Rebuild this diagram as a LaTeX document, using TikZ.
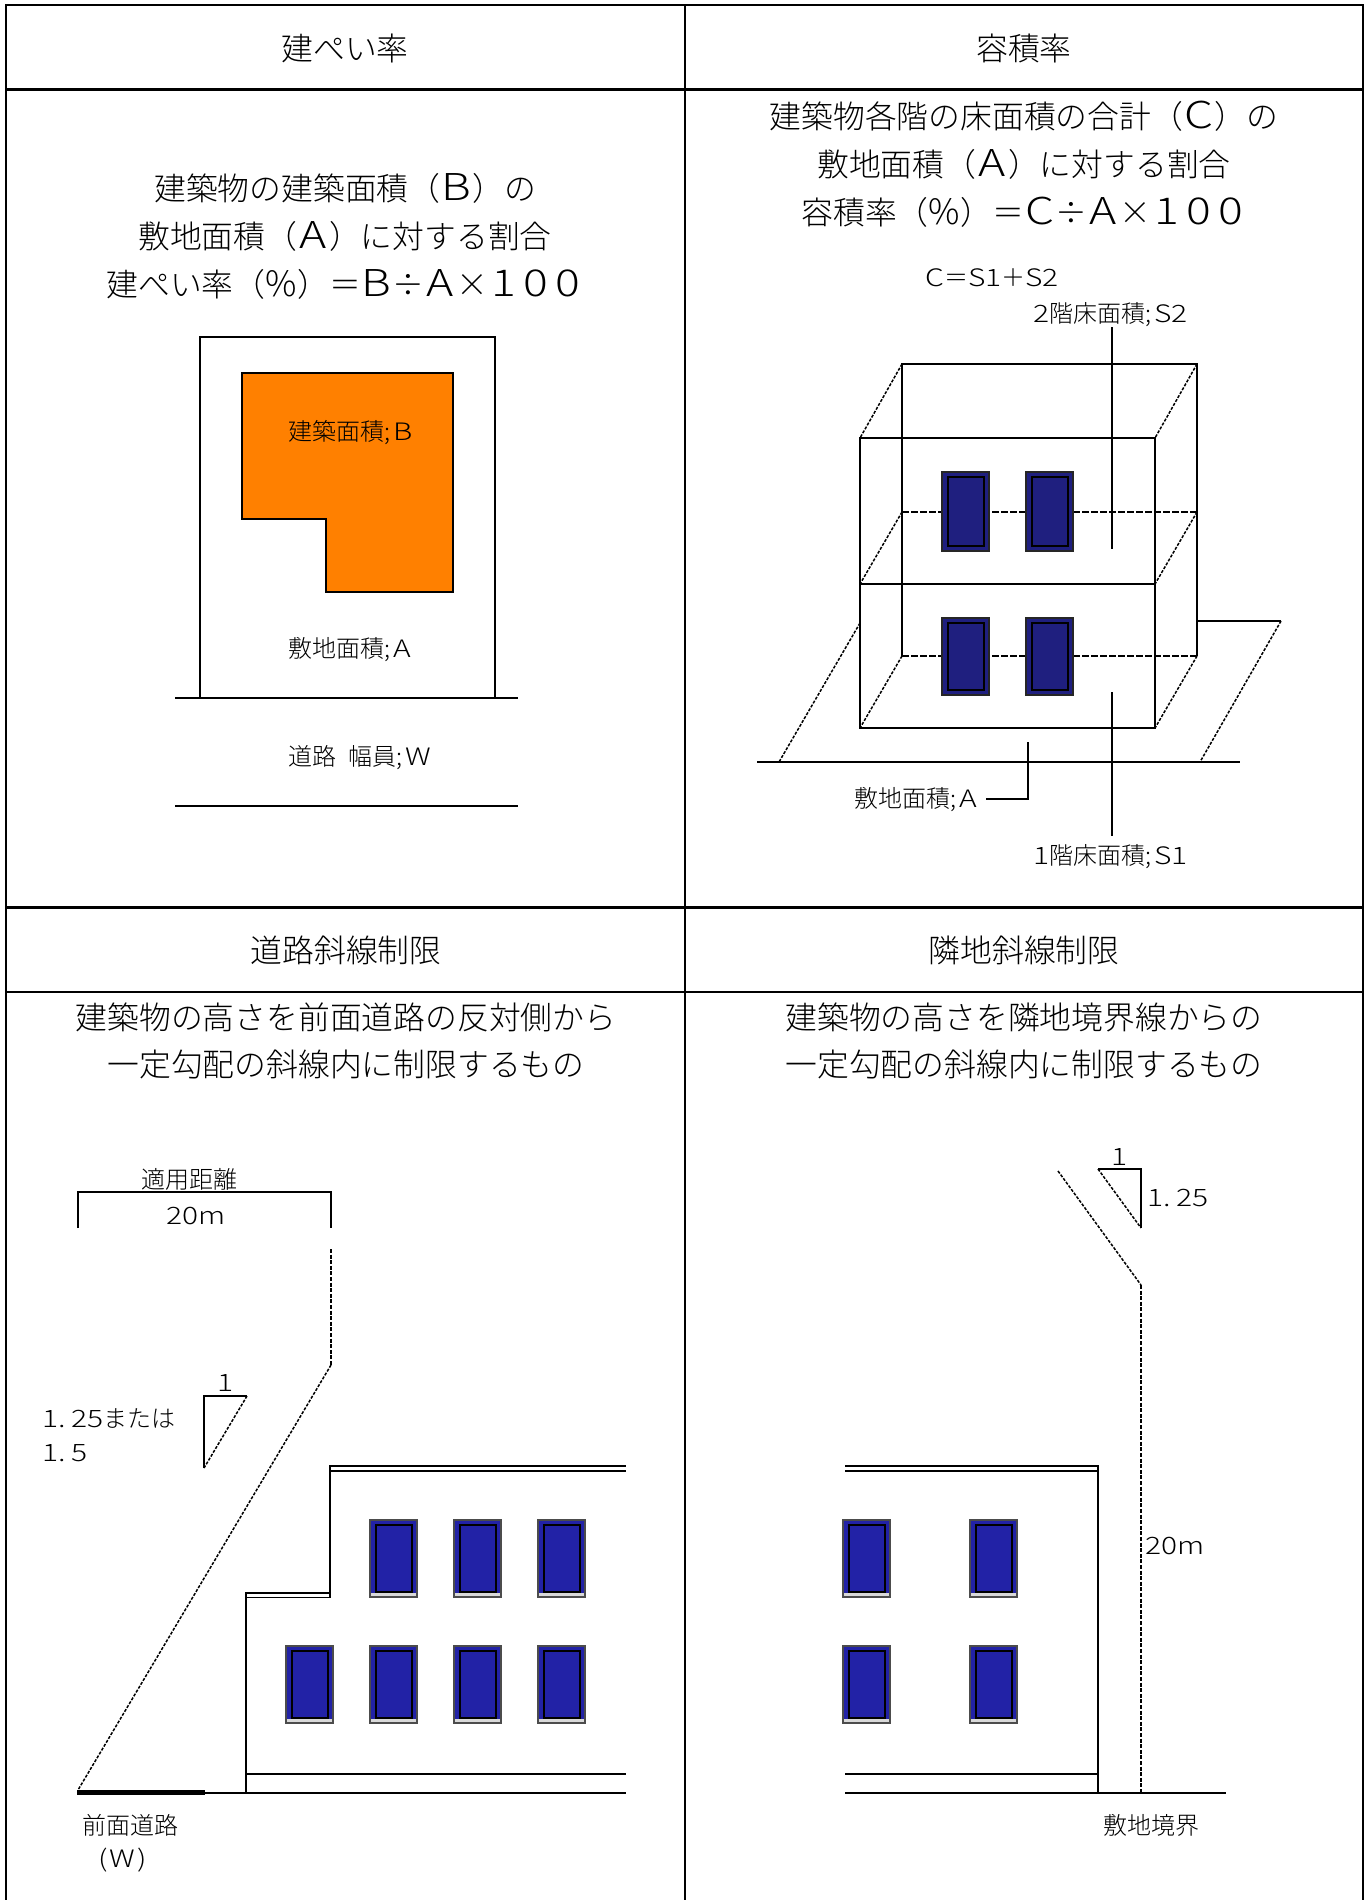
\documentclass[tikz,border=0pt]{standalone}
\usepackage{fontspec}
\setmainfont{Noto Sans CJK JP Light}
\newfontfamily\stretchfont{Noto Sans CJK JP Light}[FakeStretch=1.25]
\definecolor{orng}{HTML}{FF8000}
\definecolor{winA}{HTML}{1F1F7F}
\definecolor{winB}{HTML}{2222A6}
\newcommand{\lat}[1]{{\stretchfont #1}}
\newcommand{\fw}[1]{\makebox[31.8pt]{\fontsize{37}{47.8}\stretchfont #1}}
\newcommand{\pct}{\makebox[31.8pt]{\fontsize{35}{47.8}\selectfont \%}}
\tikzset{
  frameline/.style={line width=2.4pt,black},
  thin line/.style={line width=1.6pt,black},
  jag/.style={line width=1.5pt,black,dash pattern=on 3pt off 1.5pt},
  dashline/.style={line width=1.6pt,black,dash pattern=on 4pt off 1.6pt},
  longdash/.style={line width=1.5pt,black,dash pattern=on 6.5pt off 2.5pt},
  big/.style={inner sep=0pt,align=center,font=\fontsize{31.8}{47.8}\selectfont,text=black},
  small/.style={inner sep=0pt,anchor=west,font=\fontsize{24}{30}\selectfont,text=black},
}
\newcommand{\wnd}[4]{% x1 y1 x2 y2 : window of the perspective view
  \fill[winA] (#1,#2) rectangle (#3,#4);
  \draw[line width=1.4pt,black!85] (#1,#2) rectangle (#3,#4);
  \draw[line width=2pt,black] (#1+5.5,#2+5) rectangle (#3-5.5,#4-5);
}
\newcommand{\wnds}[2]{% x y : elevation window with sill
  \fill[winB] (#1,#2) rectangle (#1+47,#2+77);
  \fill[black!15] (#1+1,#2+73) rectangle (#1+46,#2+77);
  \draw[line width=1.3pt,black!70] (#1,#2) rectangle (#1+47,#2+77);
  \draw[line width=2pt,black] (#1+5.5,#2+5) rectangle (#1+41.5,#2+72);
}
\begin{document}
\begin{tikzpicture}[x=1pt,y=-1pt]
\useasboundingbox (0,0) rectangle (1370,1900);
\fill[white] (0,0) rectangle (1370,1900);
% table
\draw[frameline] (6,1900) -- (6,5) -- (1363,5) -- (1363,1900);
\draw[frameline] (685,5) -- (685,1900);
\draw[frameline] (6,89.5) -- (1363,89.5);
\draw[frameline] (6,907.5) -- (1363,907.5);
\draw[frameline] (6,992) -- (1363,992);
% headings
\node[big] (h1) at (345,48.5) {建ぺい率};
\node[big] (h2) at (1024,48.5) {容積率};
\node[big] (h3) at (346,950) {道路斜線制限};
\node[big] (h4) at (1024,950) {隣地斜線制限};
\node[big] (t1) at (345,236.5) {建築物の建築面積（\fw{B}）の\\敷地面積（\fw{A}）に対する割合\\建ぺい率（\pct）＝\fw{B}÷\fw{A}×\fw{1}\fw{0}\fw{0}};
\node[big] (t2) at (1024,164) {建築物各階の床面積の合計（\fw{C}）の\\敷地面積（\fw{A}）に対する割合\\容積率（\pct）＝\fw{C}÷\fw{A}×\fw{1}\fw{0}\fw{0}};
\node[big] (t3) at (346,1041) {建築物の高さを前面道路の反対側から\\一定勾配の斜線内に制限するもの};
\node[big] (t4) at (1024,1041) {建築物の高さを隣地境界線からの\\一定勾配の斜線内に制限するもの};
% panel 1
\draw[thin line] (200,698) -- (200,337) -- (495,337) -- (495,698);
\draw[thin line] (175,698) -- (518,698);
\draw[thin line] (175,806) -- (518,806);
\draw[thin line,fill=orng] (242,373) -- (453,373) -- (453,592) -- (326,592) -- (326,519) -- (242,519) -- cycle;
\node[small] (a1) at (288,433) {建築面積;\hspace{3pt}\lat{B}};
\node[small] (a2) at (288,650) {敷地面積;\hspace{3pt}\lat{A}};
\node[small] (a3) at (288,758) {道路\hspace{12pt}幅員;\hspace{3pt}\lat{W}};
% panel 2
\draw[thin line] (902,656) -- (902,364) -- (1197,364) -- (1197,656);
\draw[longdash] (902,512) -- (1197,512);
\draw[longdash] (902,656) -- (1197,656);
\draw[jag] (902,364) -- (860,438);
\draw[jag] (1197,364) -- (1155,438);
\draw[jag] (902,512) -- (860,584);
\draw[jag] (1197,512) -- (1155,584);
\draw[jag] (902,656) -- (860,728);
\draw[jag] (1197,656) -- (1155,728);
\draw[thin line] (860,438) rectangle (1155,728);
\draw[thin line] (860,584) -- (1155,584);
\draw[thin line] (757,762) -- (1240,762);
\draw[jag] (860,623) -- (779,762);
\draw[thin line] (1197,621) -- (1281,621);
\draw[jag] (1281,621) -- (1200,762);
\wnd{942}{472}{989}{551}
\wnd{1026}{472}{1073}{551}
\wnd{942}{618}{989}{695}
\wnd{1026}{618}{1073}{695}
\node[small] (b1) at (925,278) {\lat{C}＝\lat{S1}＋\lat{S2}};
\node[small] (b2) at (1033,315) {\lat{2}階床面積;\hspace{3pt}\lat{S2}};
\node[small] (b3) at (1033,857) {\lat{1}階床面積;\hspace{3pt}\lat{S1}};
\node[small] (b4) at (854,800) {敷地面積;\hspace{3pt}\lat{A}};
\draw[thin line] (1112,327) -- (1112,549);
\draw[thin line] (1112,692) -- (1112,836);
\draw[thin line] (1028,742) -- (1028,799) -- (986,799);
% panel 3
\draw[thin line] (78,1228) -- (78,1192) -- (331,1192) -- (331,1228);
\node[small] (c1) at (141,1179) {適用距離};
\node[small] (c2) at (166,1216) {\lat{20m}};
\draw[dashline] (331,1249) -- (331,1365);
\draw[jag] (331,1365) -- (78,1790);
\draw[thin line] (204,1468) -- (204,1396) -- (247,1396);
\draw[jag] (247,1396) -- (204,1468);
\node[small] (c3) at (217,1383) {\lat{1}};
\node[small] (c4) at (42,1419) {\lat{1.\hspace{6pt}25}または};
\node[small] (c5) at (42,1453) {\lat{1.\hspace{6pt}5}};
\draw[thin line] (78,1793) -- (626,1793);
\draw[line width=5pt] (77,1792) -- (205,1792);
\draw[thin line] (246,1793) -- (246,1593) -- (330,1593) -- (330,1466) -- (626,1466);
\draw[thin line] (246,1597.5) -- (330,1597.5) -- (330,1471) -- (626,1471);
\draw[thin line] (246,1774) -- (626,1774);
\wnds{370}{1520}
\wnds{454}{1520}
\wnds{538}{1520}
\wnds{286}{1646}
\wnds{370}{1646}
\wnds{454}{1646}
\wnds{538}{1646}
\node[small] (c6) at (82,1825) {前面道路};
\node[small] (c7) at (98,1860) {\lat{(\hspace{2pt}W\hspace{2pt})}};
% panel 4
\draw[thin line] (1098,1169) -- (1141,1169) -- (1141,1228);
\draw[jag] (1098,1169) -- (1141,1228);
\node[small] (d1) at (1111,1157) {\lat{1}};
\node[small] (d2) at (1147,1198) {\lat{1.\hspace{6pt}25}};
\draw[jag] (1058,1171) -- (1141,1285);
\draw[dashline] (1141,1285) -- (1141,1793);
\draw[thin line] (845,1466) -- (1098,1466) -- (1098,1793);
\draw[thin line] (845,1471) -- (1098,1471);
\draw[thin line] (845,1774) -- (1098,1774);
\draw[thin line] (845,1793) -- (1226,1793);
\wnds{843}{1520}
\wnds{970}{1520}
\wnds{843}{1646}
\wnds{970}{1646}
\node[small] (d3) at (1145,1546) {\lat{20m}};
\node[small] (d4) at (1103,1825) {敷地境界};
\end{tikzpicture}
\end{document}
